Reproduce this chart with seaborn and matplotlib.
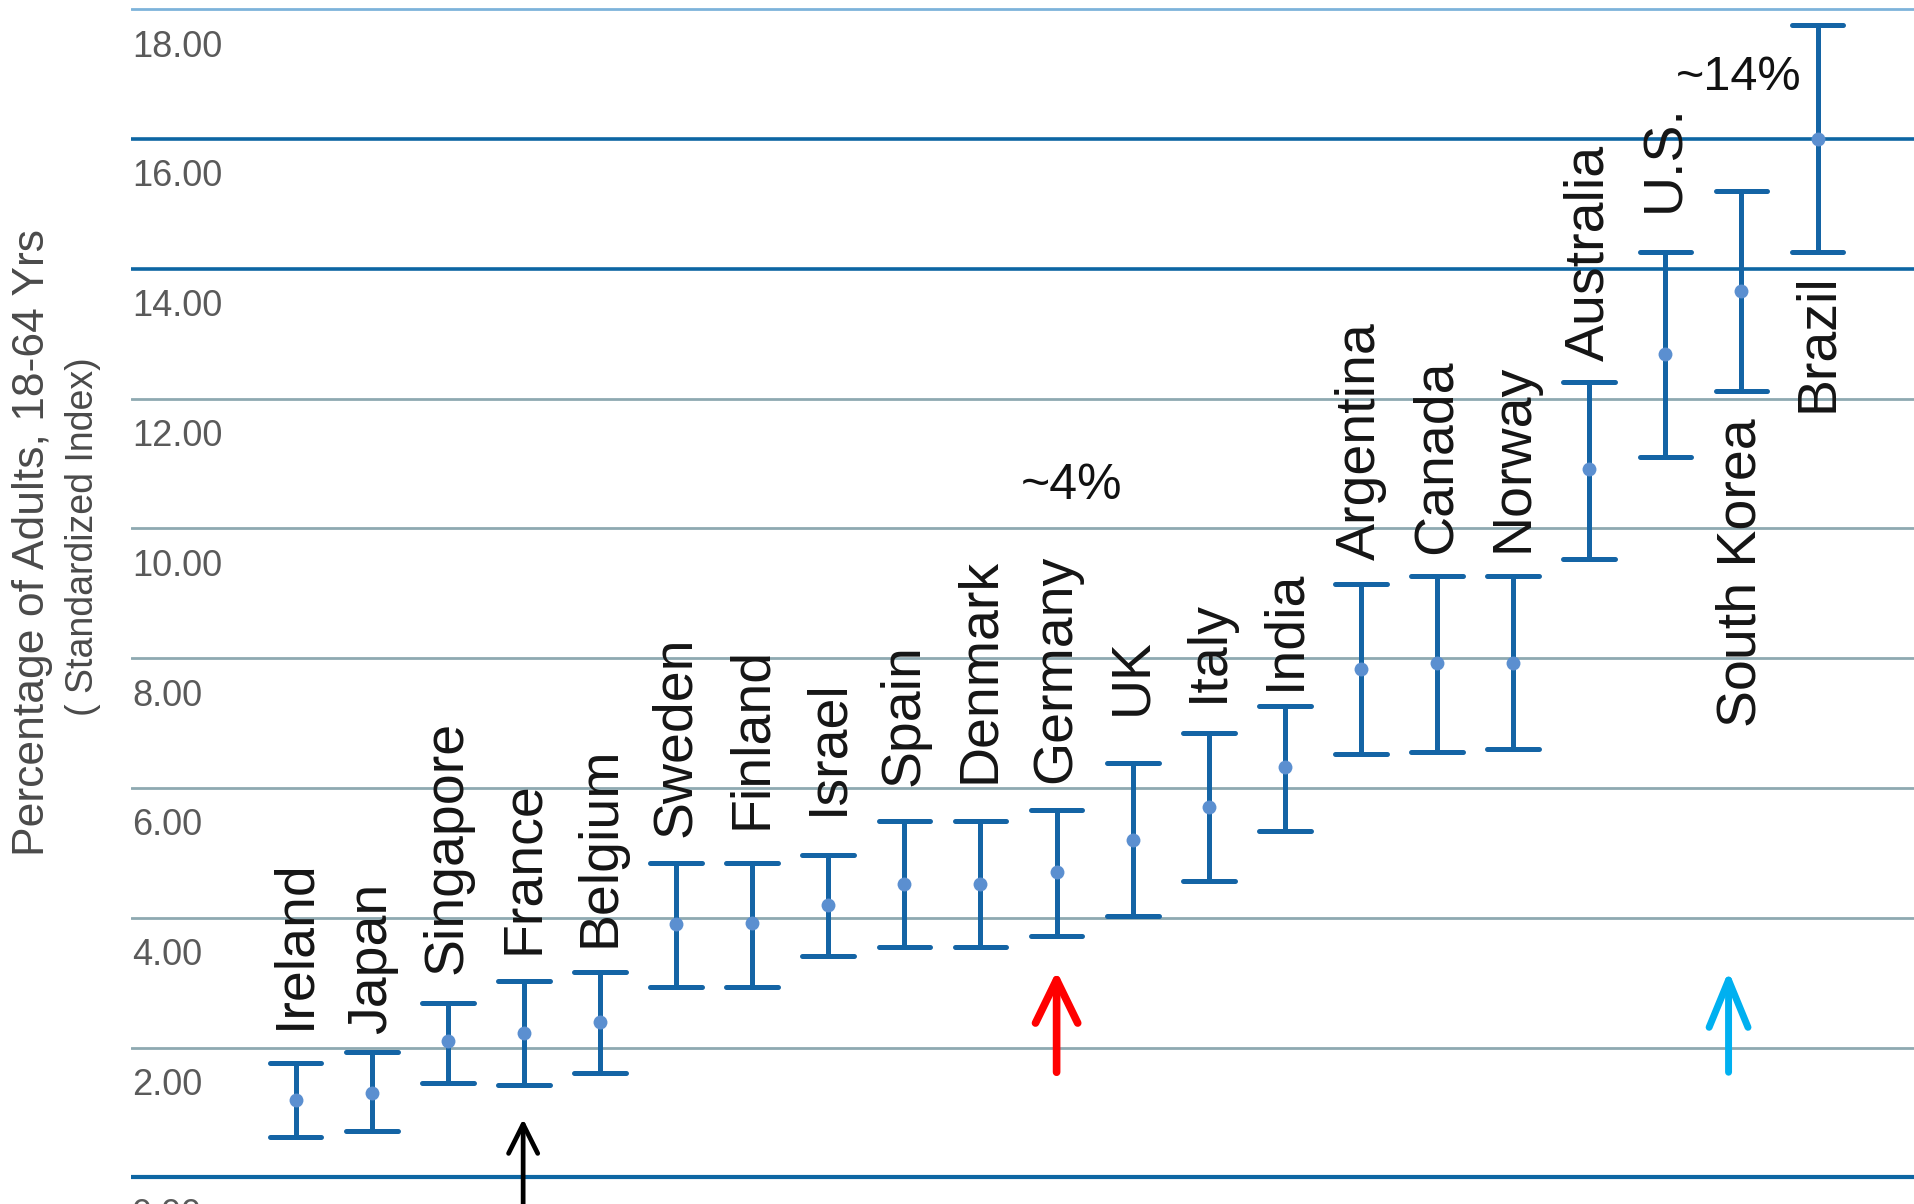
import numpy as np
import pandas as pd
import matplotlib
matplotlib.use("Agg")
import matplotlib.pyplot as plt
import matplotlib.transforms as mtransforms
from matplotlib import font_manager
import seaborn as sns

# Prevalence estimates with lower / upper bounds (percent of adults aged 18-64)
countries = ["Ireland", "Japan", "Singapore", "France", "Belgium", "Sweden",
             "Finland", "Israel", "Spain", "Denmark", "Germany", "UK", "Italy",
             "India", "Argentina", "Canada", "Norway", "Australia", "U.S.",
             "South Korea", "Brazil"]
low = [0.62, 0.72, 1.46, 1.42, 1.61, 2.93, 2.93, 3.41, 3.55, 3.55, 3.72,
       4.02, 4.56, 5.34, 6.53, 6.56, 6.60, 9.53, 11.10, 12.12, 14.25]
mid = [1.19, 1.30, 2.10, 2.22, 2.40, 3.91, 3.92, 4.19, 4.52, 4.52, 4.71,
       5.20, 5.71, 6.33, 7.84, 7.93, 7.93, 10.92, 12.68, 13.65, 16.00]
high = [1.77, 1.93, 2.68, 3.02, 3.16, 4.85, 4.85, 4.97, 5.49, 5.49, 5.66,
        6.38, 6.85, 7.27, 9.15, 9.26, 9.26, 12.25, 14.25, 15.20, 17.76]

# where each rotated country name starts (y, data units)
label_base = [2.28, 2.21, 3.14, 3.44, 3.55, 5.25, 5.37, 5.58, 6.03, 6.08,
              6.08, 7.13, 7.32, 7.51, 9.51, 9.61, 9.64, 12.58, 14.87, 6.94, 11.79]

y_ticks = [0, 2, 4, 6, 8, 10, 12, 14, 16, 18]
tick_labels = ["0.00", "2.00", "4.00", "6.00", "8.00", "10.00", "12.00",
               "14.00", "16.00", "18.00"]

BAR = "#1464a5"
DOT = "#5b8fd0"
GRID = "#8ea9b1"
DARK_GRID = "#0d66a3"
TOP_GRID = "#7db3da"

sns.set_theme(style="white")
available = {f.name for f in font_manager.fontManager.ttflist}
NARROW = "Liberation Sans Narrow" if "Liberation Sans Narrow" in available else "Liberation Sans"
plt.rcParams["font.family"] = ["Liberation Sans", "DejaVu Sans"]

long_df = pd.DataFrame({
    "country": np.repeat(countries, 3),
    "value": np.column_stack([low, mid, high]).ravel(),
})

W, H = 1915, 1204
fig = plt.figure(figsize=(W / 100, H / 100), dpi=100)
left = 131 / W
ax = fig.add_axes([left, 0, 1 - left, 1])

# horizontal reference lines
grid_style = {18: (TOP_GRID, 2.0), 16: (DARK_GRID, 2.6), 14: (DARK_GRID, 2.6),
              0: (DARK_GRID, 3.0)}
for v in y_ticks:
    c, lw = grid_style.get(v, (GRID, 2.0))
    ax.axhline(v, color=c, lw=lw, zorder=0)

# range bars
sns.pointplot(data=long_df, x="country", y="value", order=countries,
              estimator="median", errorbar=lambda v: (v.min(), v.max()),
              capsize=0.68, linestyle="none", marker="", color=BAR,
              err_kws={"linewidth": 3.6}, ax=ax)
# central estimates
sns.pointplot(x=countries, y=mid, order=countries, errorbar=None,
              linestyle="none", marker="o", color=DOT, markersize=10,
              markeredgewidth=0, ax=ax)

ax.set_xlim(-2.163, 21.28)
ax.set_ylim(-0.41, 18.14)
ax.set_xticks([])
ax.set_yticks([])
ax.set_xlabel("")
ax.set_ylabel("")
for s in ax.spines.values():
    s.set_visible(False)

# value labels sit just under their reference lines
blend = mtransforms.blended_transform_factory(ax.transAxes, ax.transData)
shift = mtransforms.ScaledTranslation(0.01, -0.38, fig.dpi_scale_trans)
for v, t in zip(y_ticks, tick_labels):
    ax.text(0.0, v, t, transform=blend + shift, ha="left", va="center",
            fontsize=26, family=NARROW, color="#5a5a5a")

# country names
for i, (name, base) in enumerate(zip(countries, label_base)):
    ax.text(i, base, name, rotation=90, ha="center", va="bottom",
            fontsize=40, color="#151515")

ax.text(10.19, 10.65, "~4%", ha="center", va="center", fontsize=36,
        family=NARROW, color="#111111")
ax.text(18.96, 16.95, "~14%", ha="center", va="center", fontsize=35,
        family=NARROW, color="#111111")

# pointer arrows
ax.annotate("", xy=(2.99, 0.90), xytext=(2.99, -0.7),
            arrowprops=dict(arrowstyle="->,head_length=0.7,head_width=0.35",
                            color="black", lw=3.4, shrinkA=0, shrinkB=0,
                            mutation_scale=30),
            annotation_clip=False)
ax.annotate("", xy=(10.0, 3.18), xytext=(10.0, 1.62),
            arrowprops=dict(arrowstyle="->,head_length=0.78,head_width=0.38",
                            color="#ff0000", lw=5.5, shrinkA=0, shrinkB=0,
                            mutation_scale=40))
ax.annotate("", xy=(18.83, 3.18), xytext=(18.83, 1.62),
            arrowprops=dict(arrowstyle="->,head_length=0.85,head_width=0.35",
                            color="#00b0f0", lw=5.0, shrinkA=0, shrinkB=0,
                            mutation_scale=40))

# axis title
fig.text(33 / W, 1 - 543 / H, "Percentage of Adults, 18-64 Yrs", rotation=90,
         ha="center", va="center", fontsize=32, family=NARROW, color="#4a4a4a")
fig.text(83 / W, 1 - 537 / H, "( Standardized Index)", rotation=90,
         ha="center", va="center", fontsize=27, family=NARROW, color="#4a4a4a")

fig.savefig("out.png", dpi=100, facecolor="white")
